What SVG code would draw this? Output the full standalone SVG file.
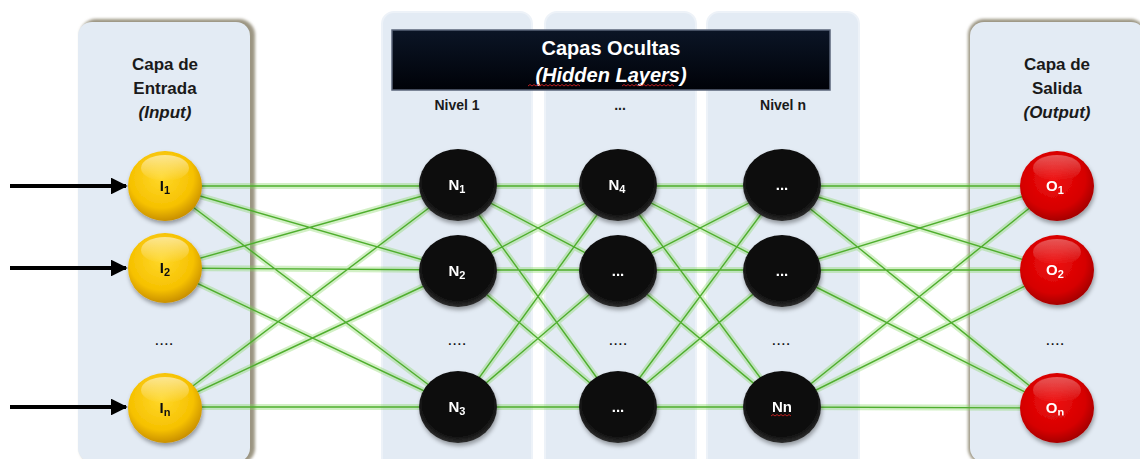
<svg xmlns="http://www.w3.org/2000/svg" width="1140" height="459" viewBox="0 0 1140 459">
  <style>
    .lbl { font-family: "Liberation Sans", Arial, sans-serif; font-weight: bold; font-size: 17px; fill: #1a1a1a; text-anchor: middle; }
    .it { font-style: italic; }
    .lvl { font-family: "Liberation Sans", Arial, sans-serif; font-weight: bold; font-size: 14px; fill: #1a1a1a; text-anchor: middle; }
    .dots { font-family: "Liberation Sans", Arial, sans-serif; font-size: 17px; fill: #111; text-anchor: middle; }
    .ttl { font-family: "Liberation Sans", Arial, sans-serif; font-weight: bold; font-size: 20px; fill: #ffffff; text-anchor: middle; }
    .nd { font-family: "Liberation Sans", Arial, sans-serif; font-weight: bold; font-size: 15px; text-anchor: middle; }
    .nd-dark { fill: #111; }
    .nd-light { fill: #ffffff; }
    .sub { font-size: 11px; }
    .panel { fill: #e3ebf4; }
    .hpanel { fill: #e3ebf4; stroke: #edf2f8; stroke-width: 2; }
    .glow { stroke: #7fd35a; stroke-opacity: 0.35; stroke-width: 6; fill: none; }
    .core { stroke: #4fae2e; stroke-width: 1.4; fill: none; }
    .squig { fill: none; stroke: #d02020; stroke-width: 0.9; }
  </style>
  <defs>
    <radialGradient id="gYellow" cx="45%" cy="38%" r="62%">
      <stop offset="0" stop-color="#ffd82a"/>
      <stop offset="0.7" stop-color="#f6c100"/>
      <stop offset="1" stop-color="#c99000"/>
    </radialGradient>
    <radialGradient id="gBlack" cx="50%" cy="45%" r="58%">
      <stop offset="0" stop-color="#0a0a0a"/>
      <stop offset="0.8" stop-color="#111"/>
      <stop offset="1" stop-color="#3a3a3a"/>
    </radialGradient>
    <radialGradient id="gRed" cx="45%" cy="40%" r="62%">
      <stop offset="0" stop-color="#ee1010"/>
      <stop offset="0.7" stop-color="#d60000"/>
      <stop offset="1" stop-color="#a00000"/>
    </radialGradient>
    <linearGradient id="gloss" x1="0" y1="0" x2="0" y2="1">
      <stop offset="0" stop-color="#ffffff" stop-opacity="0.55"/>
      <stop offset="1" stop-color="#ffffff" stop-opacity="0"/>
    </linearGradient>
    <linearGradient id="gTitle" x1="0" y1="0" x2="0" y2="1">
      <stop offset="0" stop-color="#0b1526"/>
      <stop offset="1" stop-color="#000208"/>
    </linearGradient>
    <filter id="shadow" x="-20%" y="-20%" width="150%" height="150%">
      <feDropShadow dx="1" dy="3" stdDeviation="2" flood-color="#000" flood-opacity="0.35"/>
    </filter>
    <filter id="soft" x="-10%" y="-10%" width="120%" height="120%">
      <feGaussianBlur stdDeviation="1.5"/>
    </filter>
    <marker id="arrow" viewBox="0 0 10 10" refX="9" refY="5" markerWidth="4.2" markerHeight="4.2" orient="auto" markerUnits="strokeWidth">
      <path d="M0,0 L10,5 L0,10 z" fill="#000"/>
    </marker>
  </defs>

  <rect x="0" y="0" width="1140" height="459" fill="#ffffff"/>

  <!-- layer panels -->
  <g id="panel-input">
    <rect x="80" y="19" width="175" height="445" rx="16" fill="#9b9582" filter="url(#soft)"/>
    <rect x="78" y="22" width="172" height="440" rx="14" class="panel"/>
    <text class="lbl" x="165" y="70">Capa de</text>
    <text class="lbl" x="165" y="94">Entrada</text>
    <text class="lbl it" x="165" y="118">(Input)</text>
    <text class="dots" x="164" y="345">....</text>
  </g>
  <g id="panel-hidden-1">
    <rect x="382" y="12" width="150" height="460" rx="12" class="hpanel"/>
    <text class="lvl" x="457" y="110">Nivel 1</text>
    <text class="dots" x="457" y="345">....</text>
  </g>
  <g id="panel-hidden-2">
    <rect x="545" y="12" width="151" height="460" rx="12" class="hpanel"/>
    <text class="lvl" x="620" y="110">...</text>
    <text class="dots" x="618" y="345">....</text>
  </g>
  <g id="panel-hidden-3">
    <rect x="707" y="12" width="152" height="460" rx="12" class="hpanel"/>
    <text class="lvl" x="783" y="110">Nivel n</text>
    <text class="dots" x="781" y="345">....</text>
  </g>
  <g id="panel-output">
    <rect x="968" y="19" width="178" height="445" rx="16" fill="#9b9582" filter="url(#soft)"/>
    <rect x="970" y="22" width="175" height="440" rx="14" class="panel"/>
    <text class="lbl" x="1057" y="70">Capa de</text>
    <text class="lbl" x="1057" y="94">Salida</text>
    <text class="lbl it" x="1057" y="118">(Output)</text>
    <text class="dots" x="1055" y="345">....</text>
  </g>

  <!-- hidden layers title bar -->
  <g id="title-hidden">
    <rect x="392" y="30" width="438" height="60" fill="url(#gTitle)" stroke="#5a6478" stroke-width="1.5"/>
    <text class="ttl" x="611" y="55">Capas Ocultas</text>
    <text class="ttl it" x="611" y="82">(Hidden Layers)</text>
    <path class="squig" d="M528,86 l2,-1.5 l2,1.5 l2,-1.5 l2,1.5 l2,-1.5 l2,1.5 l2,-1.5 l2,1.5 l2,-1.5 l2,1.5 l2,-1.5 l2,1.5 l2,-1.5 l2,1.5 l2,-1.5 l2,1.5 l2,-1.5 l2,1.5 l2,-1.5 l2,1.5 l2,-1.5 l2,1.5 l2,-1.5 l2,1.5 l2,-1.5 l2,1.5"/>
    <path class="squig" d="M622,86 l2,-1.5 l2,1.5 l2,-1.5 l2,1.5 l2,-1.5 l2,1.5 l2,-1.5 l2,1.5 l2,-1.5 l2,1.5 l2,-1.5 l2,1.5 l2,-1.5 l2,1.5 l2,-1.5 l2,1.5 l2,-1.5 l2,1.5 l2,-1.5 l2,1.5 l2,-1.5 l2,1.5 l2,-1.5 l2,1.5 l2,-1.5 l2,1.5"/>
  </g>

  <!-- connectors -->
  <g id="connectors">
    <g class="glow">
      <path d="M165,186 L458,186 M165,186 L458,270 M165,186 L458,407 M165,268 L458,186 M165,268 L458,270 M165,268 L458,407 M165,407 L458,186 M165,407 L458,270 M165,407 L458,407"/>
      <path d="M458,186 L618,186 M458,186 L618,270 M458,186 L618,407 M458,270 L618,186 M458,270 L618,270 M458,270 L618,407 M458,407 L618,186 M458,407 L618,270 M458,407 L618,407"/>
      <path d="M618,186 L782,186 M618,186 L782,270 M618,186 L782,407 M618,270 L782,186 M618,270 L782,270 M618,270 L782,407 M618,407 L782,186 M618,407 L782,270 M618,407 L782,407"/>
      <path d="M782,186 L1057,186 M782,186 L1057,270 M782,186 L1057,408 M782,270 L1057,186 M782,270 L1057,270 M782,270 L1057,408 M782,407 L1057,186 M782,407 L1057,270 M782,407 L1057,408"/>
    </g>
    <g class="core">
      <path d="M165,186 L458,186 M165,186 L458,270 M165,186 L458,407 M165,268 L458,186 M165,268 L458,270 M165,268 L458,407 M165,407 L458,186 M165,407 L458,270 M165,407 L458,407"/>
      <path d="M458,186 L618,186 M458,186 L618,270 M458,186 L618,407 M458,270 L618,186 M458,270 L618,270 M458,270 L618,407 M458,407 L618,186 M458,407 L618,270 M458,407 L618,407"/>
      <path d="M618,186 L782,186 M618,186 L782,270 M618,186 L782,407 M618,270 L782,186 M618,270 L782,270 M618,270 L782,407 M618,407 L782,186 M618,407 L782,270 M618,407 L782,407"/>
      <path d="M782,186 L1057,186 M782,186 L1057,270 M782,186 L1057,408 M782,270 L1057,186 M782,270 L1057,270 M782,270 L1057,408 M782,407 L1057,186 M782,407 L1057,270 M782,407 L1057,408"/>
    </g>
    <!-- input arrows -->
    <g stroke="#000" stroke-width="4" fill="none">
      <line x1="10" y1="186" x2="126" y2="186" marker-end="url(#arrow)"/>
      <line x1="10" y1="268" x2="126" y2="268" marker-end="url(#arrow)"/>
      <line x1="10" y1="407" x2="126" y2="407" marker-end="url(#arrow)"/>
    </g>
  </g>

  <!-- input nodes -->
  <g id="node-I1" filter="url(#shadow)">
    <ellipse cx="165" cy="186" rx="37" ry="35" fill="url(#gYellow)"/>
    <ellipse cx="165" cy="168" rx="24" ry="13" fill="url(#gloss)"/>
    <text class="nd nd-dark" x="165" y="191">I<tspan class="sub" dy="3">1</tspan></text>
  </g>
  <g id="node-I2" filter="url(#shadow)">
    <ellipse cx="165" cy="268" rx="37" ry="35" fill="url(#gYellow)"/>
    <ellipse cx="165" cy="250" rx="24" ry="13" fill="url(#gloss)"/>
    <text class="nd nd-dark" x="165" y="273">I<tspan class="sub" dy="3">2</tspan></text>
  </g>
  <g id="node-In" filter="url(#shadow)">
    <ellipse cx="165" cy="408" rx="37" ry="35" fill="url(#gYellow)"/>
    <ellipse cx="165" cy="390" rx="24" ry="13" fill="url(#gloss)"/>
    <text class="nd nd-dark" x="165" y="413">I<tspan class="sub" dy="3">n</tspan></text>
  </g>

  <!-- hidden level 1 -->
  <g id="node-N1" filter="url(#shadow)">
    <ellipse cx="458" cy="185" rx="39" ry="36" fill="url(#gBlack)"/>
    <text class="nd nd-light" x="457" y="190">N<tspan class="sub" dy="3">1</tspan></text>
  </g>
  <g id="node-N2" filter="url(#shadow)">
    <ellipse cx="458" cy="271" rx="39" ry="36" fill="url(#gBlack)"/>
    <text class="nd nd-light" x="457" y="276">N<tspan class="sub" dy="3">2</tspan></text>
  </g>
  <g id="node-N3" filter="url(#shadow)">
    <ellipse cx="458" cy="407" rx="39" ry="36" fill="url(#gBlack)"/>
    <text class="nd nd-light" x="457" y="412">N<tspan class="sub" dy="3">3</tspan></text>
  </g>

  <!-- hidden middle level -->
  <g id="node-N4" filter="url(#shadow)">
    <ellipse cx="618" cy="185" rx="39" ry="36" fill="url(#gBlack)"/>
    <text class="nd nd-light" x="617" y="190">N<tspan class="sub" dy="3">4</tspan></text>
  </g>
  <g id="node-mid-2" filter="url(#shadow)">
    <ellipse cx="618" cy="271" rx="39" ry="36" fill="url(#gBlack)"/>
    <text class="nd nd-light" x="618" y="276">...</text>
  </g>
  <g id="node-mid-3" filter="url(#shadow)">
    <ellipse cx="618" cy="407" rx="39" ry="36" fill="url(#gBlack)"/>
    <text class="nd nd-light" x="618" y="412">...</text>
  </g>

  <!-- hidden level n -->
  <g id="node-lvn-1" filter="url(#shadow)">
    <ellipse cx="782" cy="185" rx="39" ry="36" fill="url(#gBlack)"/>
    <text class="nd nd-light" x="782" y="190">...</text>
  </g>
  <g id="node-lvn-2" filter="url(#shadow)">
    <ellipse cx="782" cy="271" rx="39" ry="36" fill="url(#gBlack)"/>
    <text class="nd nd-light" x="782" y="276">...</text>
  </g>
  <g id="node-Nn" filter="url(#shadow)">
    <ellipse cx="782" cy="407" rx="39" ry="36" fill="url(#gBlack)"/>
    <text class="nd nd-light" x="782" y="412">Nn</text>
    <path class="squig" d="M771,416 l2,-1.5 l2,1.5 l2,-1.5 l2,1.5 l2,-1.5 l2,1.5 l2,-1.5 l2,1.5 l2,-1.5 l2,1.5"/>
  </g>

  <!-- output nodes -->
  <g id="node-O1" filter="url(#shadow)">
    <ellipse cx="1057" cy="186" rx="37" ry="35" fill="url(#gRed)"/>
    <ellipse cx="1057" cy="168" rx="24" ry="13" fill="url(#gloss)" opacity="0.6"/>
    <text class="nd nd-light" x="1055" y="191">O<tspan class="sub" dy="3">1</tspan></text>
  </g>
  <g id="node-O2" filter="url(#shadow)">
    <ellipse cx="1057" cy="270" rx="37" ry="35" fill="url(#gRed)"/>
    <ellipse cx="1057" cy="252" rx="24" ry="13" fill="url(#gloss)" opacity="0.6"/>
    <text class="nd nd-light" x="1055" y="275">O<tspan class="sub" dy="3">2</tspan></text>
  </g>
  <g id="node-On" filter="url(#shadow)">
    <ellipse cx="1057" cy="408" rx="37" ry="35" fill="url(#gRed)"/>
    <ellipse cx="1057" cy="390" rx="24" ry="13" fill="url(#gloss)" opacity="0.6"/>
    <text class="nd nd-light" x="1055" y="413">O<tspan class="sub" dy="3">n</tspan></text>
    <path class="squig" d="M1045,417 l2,-1.5 l2,1.5 l2,-1.5 l2,1.5 l2,-1.5 l2,1.5 l2,-1.5 l2,1.5 l2,-1.5 l2,1.5"/>
  </g>
</svg>
